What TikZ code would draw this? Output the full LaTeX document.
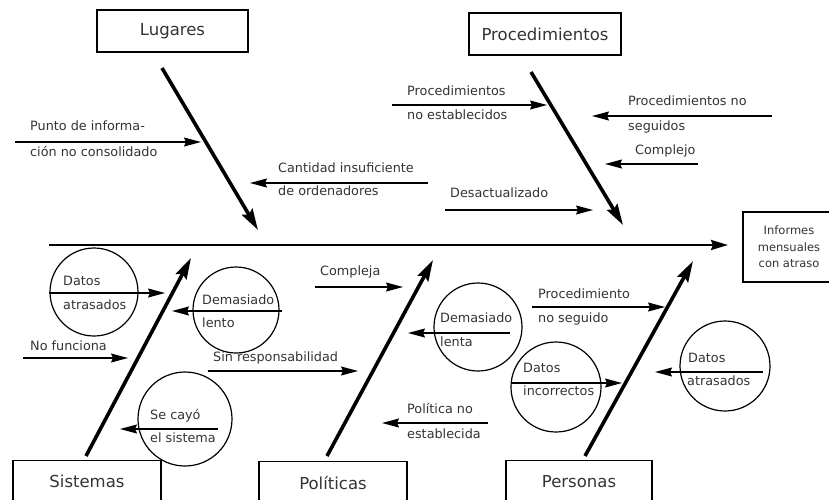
\documentclass[tikz,border=0pt]{standalone}
\usepackage{fontspec}
\setmainfont{DejaVu Sans}
\usetikzlibrary{arrows.meta}

\begin{document}
\begin{tikzpicture}[x=1pt,y=-1pt,
  catbox/.style={draw, line width=1.3pt, inner sep=0pt, font=\fontsize{16.5}{19}\selectfont, text=black!80},
  bone/.style={line width=3.6pt, -{Stealth[length=21pt,width=12pt,inset=3pt]}},
  spine/.style={line width=2.5pt, -{Stealth[length=17pt,width=10pt,inset=2pt]}},
  cause/.style={line width=1.2pt, -{Stealth[length=17pt,width=9pt,inset=2pt]}},
  lbl/.style={anchor=west, inner sep=0pt, font=\fontsize{12.8}{15}\selectfont, text=black!80, text height=7pt, text depth=2pt},
  ring/.style={draw, circle, line width=1.2pt, inner sep=0pt},
]
\useasboundingbox (0,0) rectangle (829,499);
\clip (0,0) rectangle (829,499);

% category boxes
\node[catbox, minimum width=151pt, minimum height=42pt] (lug) at (172.5,31) {Lugares};
\node[catbox, minimum width=152pt, minimum height=42pt] (proc) at (545,34) {Procedimientos};
\node[catbox, minimum width=148pt, minimum height=42pt, anchor=north] (sis) at (87,460) {Sistemas};
\node[catbox, minimum width=148pt, minimum height=42pt, anchor=north] (pol) at (333,461) {Políticas};
\node[catbox, minimum width=146pt, minimum height=42pt, anchor=north] (per) at (579,460) {Personas};
\node[catbox, minimum width=92pt, minimum height=70pt, align=center, font=\fontsize{11.5}{16.5}\selectfont] (eff) at (789,247) {Informes\\mensuales\\con atraso};

% spine
\coordinate (sp0) at (49,245);
\coordinate (sp1) at (728,245);
\draw[spine] (sp0) -- (sp1);

% main bones
\coordinate (b1s) at (162,68);  \coordinate (b1e) at (258,230);
\coordinate (b2s) at (531,72);  \coordinate (b2e) at (623,225);
\coordinate (b3s) at (86,456);  \coordinate (b3e) at (191,258);
\coordinate (b4s) at (327,456); \coordinate (b4e) at (433,260);
\coordinate (b5s) at (585,456); \coordinate (b5e) at (693,261);
\draw[bone] (b1s) -- (b1e);
\draw[bone] (b2s) -- (b2e);
\draw[bone] (b3s) -- (b3e);
\draw[bone] (b4s) -- (b4e);
\draw[bone] (b5s) -- (b5e);

% circled causes
\node[ring, minimum size=88pt] (c1) at (94,292) {};
\node[ring, minimum size=86pt] (c2) at (236,310) {};
\node[ring, minimum size=94pt] (c3) at (185,419) {};
\node[ring, minimum size=88pt] (c4) at (478,327) {};
\node[ring, minimum size=90pt] (c5) at (556,387) {};
\node[ring, minimum size=90pt] (c6) at (725,366) {};

% causes: Lugares
\coordinate (a1s) at (15,142);  \coordinate (a1e) at (201,142);
\draw[cause] (a1s) -- (a1e);
\node[lbl] (t1a) at (30,128) {Punto de informa-};
\node[lbl] (t1b) at (30,154) {ción no consolidado};

\coordinate (a2s) at (428,183); \coordinate (a2e) at (250,183);
\draw[cause] (a2s) -- (a2e);
\node[lbl] (t2a) at (278,170) {Cantidad insuficiente};
\node[lbl] (t2b) at (278,193) {de ordenadores};

% causes: Procedimientos
\coordinate (a3s) at (392,105); \coordinate (a3e) at (547,105);
\draw[cause] (a3s) -- (a3e);
\node[lbl] (t3a) at (407,93) {Procedimientos};
\node[lbl] (t3b) at (407,117) {no establecidos};

\coordinate (a4s) at (772,116); \coordinate (a4e) at (592,116);
\draw[cause] (a4s) -- (a4e);
\node[lbl] (t4a) at (628,103) {Procedimientos no};
\node[lbl] (t4b) at (628,128) {seguidos};

\coordinate (a5s) at (698,164); \coordinate (a5e) at (605,164);
\draw[cause] (a5s) -- (a5e);
\node[lbl] (t5a) at (635,152) {Complejo};

\coordinate (a6s) at (445,210); \coordinate (a6e) at (593,210);
\draw[cause] (a6s) -- (a6e);
\node[lbl] (t6a) at (450,195) {Desactualizado};

% causes: Sistemas
\coordinate (c1s) at (49,293);  \coordinate (c1e) at (165,293);
\draw[cause] (c1s) -- (c1e);
\node[lbl] (u1a) at (63,283) {Datos};
\node[lbl] (u1b) at (63,307) {atrasados};

\coordinate (c2s) at (282,311); \coordinate (c2e) at (172,311);
\draw[cause] (c2s) -- (c2e);
\node[lbl] (u2a) at (202,302) {Demasiado};
\node[lbl] (u2b) at (202,325) {lento};

\coordinate (a7s) at (23,358);  \coordinate (a7e) at (128,358);
\draw[cause] (a7s) -- (a7e);
\node[lbl] (t7a) at (30,348) {No funciona};

\coordinate (c3s) at (218,429); \coordinate (c3e) at (120,429);
\draw[cause] (c3s) -- (c3e);
\node[lbl] (u3a) at (150,417) {Se cayó};
\node[lbl] (u3b) at (150,440) {el sistema};

% causes: Políticas
\coordinate (a9s) at (315,287); \coordinate (a9e) at (403,287);
\draw[cause] (a9s) -- (a9e);
\node[lbl] (t9a) at (320,273) {Compleja};

\coordinate (a8s) at (208,371); \coordinate (a8e) at (358,371);
\draw[cause] (a8s) -- (a8e);
\node[lbl] (t8a) at (213,359) {Sin responsabilidad};

\coordinate (c4s) at (510,333); \coordinate (c4e) at (408,333);
\draw[cause] (c4s) -- (c4e);
\node[lbl] (u4a) at (440,320) {Demasiado};
\node[lbl] (u4b) at (440,344) {lenta};

\coordinate (a10s) at (488,423); \coordinate (a10e) at (382,423);
\draw[cause] (a10s) -- (a10e);
\node[lbl] (t10a) at (407,411) {Política no};
\node[lbl] (t10b) at (407,436) {establecida};

% causes: Personas
\coordinate (a11s) at (532,307); \coordinate (a11e) at (665,307);
\draw[cause] (a11s) -- (a11e);
\node[lbl] (t11a) at (538,296) {Procedimiento};
\node[lbl] (t11b) at (538,320) {no seguido};

\coordinate (c5s) at (512,383); \coordinate (c5e) at (622,383);
\draw[cause] (c5s) -- (c5e);
\node[lbl] (u5a) at (523,370) {Datos};
\node[lbl] (u5b) at (523,393) {incorrectos};

\coordinate (c6s) at (763,372); \coordinate (c6e) at (655,372);
\draw[cause] (c6s) -- (c6e);
\node[lbl] (u6a) at (688,360) {Datos};
\node[lbl] (u6b) at (687,383) {atrasados};
\end{tikzpicture}
\end{document}
